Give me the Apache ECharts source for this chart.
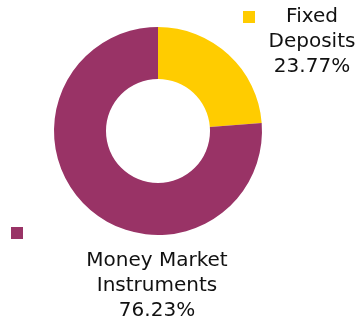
<!DOCTYPE html>
<html>
<head>
<meta charset="utf-8">
<script src="https://cdn.jsdelivr.net/npm/echarts@6/dist/echarts.min.js"></script>
<style>
  html, body { margin: 0; padding: 0; background: #fff; }
  #chart { width: 360px; height: 322px; }
</style>
</head>
<body>
<div id="chart"></div>
<script>
const categories = ['Fixed Deposits', 'Money Market Instruments']
const labelNames = ['Fixed\nDeposits', 'Money Market\nInstruments']
const values = [23.77, 76.23]
const colors = ['#ffcc00', '#993366']

const chart = echarts.init(document.getElementById('chart'))

const legendBase = {
  icon: 'rect',
  itemWidth: 12,
  itemHeight: 12,
  itemGap: 0,
  padding: 0,
  formatter: () => '',
  selectedMode: false,
  textStyle: { fontSize: 1 }
}

const labelPos = [
  { x: 312, y: 42 },
  { x: 157, y: 286 }
]

chart.setOption({
  animation: false,
  color: colors,
  legend: [
    Object.assign({}, legendBase, { data: [categories[0]], left: 243, top: 11 }),
    Object.assign({}, legendBase, { data: [categories[1]], left: 11, top: 227 })
  ],
  series: [{
    type: 'pie',
    center: [158, 131],
    radius: [52, 104],
    startAngle: 90,
    clockwise: true,
    data: categories.map((c, i) => ({ name: c, value: values[i] })),
    label: {
      show: true,
      position: 'outside',
      overflow: 'none',
      formatter: p => labelNames[p.dataIndex] + '\n' + p.value.toFixed(2) + '%',
      fontFamily: 'DejaVu Sans',
      fontSize: 20,
      lineHeight: 25,
      color: '#111',
      align: 'center'
    },
    labelLine: { show: false },
    labelLayout: p => ({
      x: labelPos[p.dataIndex].x,
      y: labelPos[p.dataIndex].y,
      align: 'center',
      verticalAlign: 'middle'
    }),
    emphasis: { disabled: true }
  }]
})
</script>
</body>
</html>
